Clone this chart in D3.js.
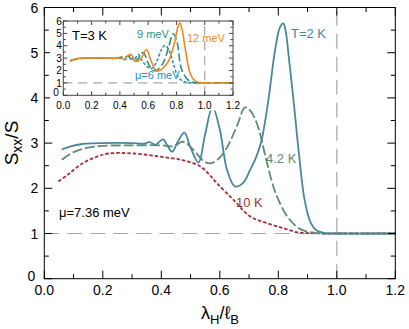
<!DOCTYPE html>
<html>
<head>
<meta charset="utf-8">
<script src="https://cdn.jsdelivr.net/npm/d3@7"></script>
<style>
  body { margin: 0; background: #fff; }
  text { font-family: "Liberation Sans", Arial, sans-serif; }
</style>
</head>
<body>
<div id="chart"></div>
<script>
// main panel: mu = 7.36 meV
const t2X = [0.06, 0.09, 0.13, 0.2, 0.3, 0.34, 0.36, 0.38, 0.395, 0.407, 0.422, 0.437, 0.458, 0.479, 0.50, 0.527, 0.55, 0.575, 0.60, 0.625, 0.652, 0.68, 0.703, 0.725, 0.743, 0.766, 0.789, 0.805, 0.817, 0.826, 0.835, 0.852, 0.87, 0.89, 0.91, 0.93, 0.96, 1.0, 1.2];
const t2Y = [2.86, 2.93, 2.98, 3.0, 3.0, 2.99, 3.02, 2.96, 3.04, 3.08, 2.93, 2.81, 3.05, 3.23, 2.9, 2.57, 3.2, 3.8, 3.3, 2.4, 2.04, 2.12, 2.4, 2.7, 3.07, 3.95, 5.06, 5.55, 5.65, 5.45, 4.95, 3.95, 2.8, 1.74, 1.25, 1.07, 1.01, 1.0, 1.0];

const t42X = [0.06, 0.1, 0.15, 0.2, 0.3, 0.4, 0.44, 0.475, 0.51, 0.545, 0.567, 0.59, 0.62, 0.66, 0.686, 0.703, 0.726, 0.743, 0.755, 0.783, 0.8, 0.83, 0.863, 0.89, 0.92, 0.95, 1.0, 1.2];
const t42Y = [2.63, 2.8, 2.9, 2.94, 2.95, 2.95, 2.93, 3.03, 2.85, 2.6, 2.55, 2.62, 2.85, 3.4, 3.79, 3.73, 3.45, 3.07, 2.73, 2.04, 1.75, 1.38, 1.15, 1.06, 1.02, 1.0, 1.0, 1.0];

const t10X = [0.048, 0.08, 0.13, 0.18, 0.219, 0.304, 0.395, 0.475, 0.532, 0.56, 0.589, 0.646, 0.703, 0.76, 0.817, 0.862, 0.9, 0.95, 1.0, 1.2];
const t10Y = [2.15, 2.3, 2.55, 2.7, 2.77, 2.77, 2.7, 2.62, 2.49, 2.33, 2.12, 1.75, 1.38, 1.23, 1.12, 1.03, 1.01, 1.0, 1.0, 1.0];

// inset: T = 3 K
const mu12X = [0.05, 0.08, 0.12, 0.2, 0.3, 0.38, 0.41, 0.43, 0.45, 0.48, 0.51, 0.545, 0.588, 0.62, 0.66, 0.70, 0.741, 0.788, 0.805, 0.823, 0.84, 0.859, 0.894, 0.92, 0.953, 1.0, 1.2];
const mu12Y = [2.8, 2.9, 3.0, 3.02, 3.02, 3.0, 3.1, 2.85, 3.15, 3.3, 2.75, 2.9, 3.7, 2.8, 1.95, 2.15, 2.7, 4.3, 5.3, 5.85, 5.3, 4.0, 1.88, 1.3, 1.05, 1.0, 1.0];

const mu9X = [0.05, 0.08, 0.12, 0.2, 0.3, 0.4, 0.43, 0.46, 0.49, 0.52, 0.565, 0.6, 0.635, 0.67, 0.71, 0.745, 0.776, 0.80, 0.835, 0.87, 0.9, 0.93, 0.96, 1.0, 1.2];
const mu9Y = [2.8, 2.9, 2.98, 3.0, 3.0, 3.0, 3.05, 3.15, 2.8, 2.85, 3.45, 2.6, 2.0, 2.1, 2.7, 3.9, 4.97, 4.5, 2.15, 1.4, 1.1, 1.02, 1.0, 1.0, 1.0];

const mu6X = [0.05, 0.08, 0.12, 0.2, 0.3, 0.38, 0.41, 0.44, 0.47, 0.5, 0.53, 0.56, 0.595, 0.624, 0.66, 0.69, 0.718, 0.745, 0.78, 0.812, 0.85, 0.88, 0.92, 1.0, 1.2];
const mu6Y = [2.75, 2.88, 2.97, 3.0, 3.0, 3.0, 3.1, 2.9, 3.2, 2.85, 3.3, 2.75, 2.3, 2.15, 2.7, 3.6, 4.03, 3.7, 2.5, 1.48, 1.12, 1.04, 1.0, 1.0, 1.0];

const xTicks = [0, 0.2, 0.4, 0.6, 0.8, 1.0, 1.2];
const yTicks = [0, 1, 2, 3, 4, 5, 6];

const width = 409, height = 329;
const svg = d3.select('#chart').append('svg')
  .attr('width', width)
  .attr('height', height);

const x = d3.scaleLinear().domain([0, 1.2]).range([44.3, 395.3]);
const y = d3.scaleLinear().domain([0, 6]).range([278.7, 7.5]);

const pts = (xs, ys) => xs.map((v, i) => [v, ys[i]]);

function frame(g, sx, sy, opt) {
  const [x0, x1] = sx.range(), [y0, y1] = sy.range();
  const xMinor = d3.range(0, 1.2001, 0.1);
  const yMinor = d3.range(0, 6.001, 0.5);
  xMinor.forEach(v => {
    const major = Math.abs(v * 5 - Math.round(v * 5)) < 1e-6;
    const len = major ? opt.major : opt.minor;
    g.append('line').attr('x1', sx(v)).attr('x2', sx(v)).attr('y1', y0).attr('y2', y0 - len)
      .attr('stroke', opt.color).attr('stroke-width', 1);
    g.append('line').attr('x1', sx(v)).attr('x2', sx(v)).attr('y1', y1).attr('y2', y1 + len)
      .attr('stroke', opt.color).attr('stroke-width', 1);
  });
  yMinor.forEach(v => {
    const major = Math.abs(v - Math.round(v)) < 1e-6;
    const len = major ? opt.major : opt.minor;
    g.append('line').attr('y1', sy(v)).attr('y2', sy(v)).attr('x1', x0).attr('x2', x0 + len)
      .attr('stroke', opt.color).attr('stroke-width', 1);
    g.append('line').attr('y1', sy(v)).attr('y2', sy(v)).attr('x1', x1).attr('x2', x1 - len)
      .attr('stroke', opt.color).attr('stroke-width', 1);
  });
  g.append('rect').attr('x', x0).attr('y', y1).attr('width', x1 - x0).attr('height', y0 - y1)
    .attr('fill', 'none').attr('stroke', opt.color).attr('stroke-width', 1);

  g.selectAll(null).data(xTicks).enter().append('text')
    .attr('x', d => sx(d)).attr('y', y0 + opt.xOff)
    .attr('text-anchor', 'middle')
    .style('font-size', opt.font + 'px')
    .text(d => d.toFixed(1));
  g.selectAll(null).data(yTicks).enter().append('text')
    .attr('x', d => x0 - opt.yOff - (d === 0 ? opt.zeroShift : 0))
    .attr('y', d => sy(d) - (d === 0 ? opt.zeroLift : 0)).attr('dy', '0.36em')
    .attr('text-anchor', 'end')
    .style('font-size', opt.font + 'px')
    .text(d => d);
}

function refLines(g, sx, sy, dash) {
  g.append('line').attr('x1', sx(0)).attr('x2', sx(1.2)).attr('y1', sy(1)).attr('y2', sy(1))
    .attr('stroke', '#a8a8a8').attr('stroke-width', 1.2).attr('stroke-dasharray', dash);
  g.append('line').attr('x1', sx(1)).attr('x2', sx(1)).attr('y1', sy(0)).attr('y2', sy(6))
    .attr('stroke', '#a8a8a8').attr('stroke-width', 1.2).attr('stroke-dasharray', dash);
}

function curve(g, sx, sy, data, color, dash, w) {
  const line = d3.line().x(d => sx(d[0])).y(d => sy(d[1]))
    .curve(d3.curveCatmullRom.alpha(0.5));
  g.append('path').attr('d', line(data))
    .attr('fill', 'none').attr('stroke', color).attr('stroke-width', w)
    .attr('stroke-dasharray', dash);
}

// main panel
const main = svg.append('g');
refLines(main, x, y, '15,8');
curve(main, x, y, pts(t10X, t10Y), '#a3303a', '3.5,2', 1.8);
curve(main, x, y, pts(t42X, t42Y), '#5d8d72', '10,3', 1.8);
curve(main, x, y, pts(t2X, t2Y), '#4a879e', null, 1.8);
frame(main, x, y, { color: '#000', major: 8, minor: 4.5, font: 14, xOff: 16, yOff: 6, zeroLift: 3, zeroShift: 3 });

main.append('text').attr('x', 291).attr('y', 38).attr('fill', '#4a879e')
  .style('font-size', '13px').text('T=2 K');
main.append('text').attr('x', 266).attr('y', 163).attr('fill', '#5d8d72')
  .style('font-size', '13px').text('4.2 K');
main.append('text').attr('x', 236).attr('y', 207).attr('fill', '#a3303a')
  .style('font-size', '13px').text('10 K');
main.append('text').attr('x', 59).attr('y', 217).attr('fill', '#000')
  .style('font-size', '13px').text('μ=7.36 meV');

// axis titles
const yl = svg.append('text')
  .attr('transform', 'translate(18,143) rotate(-90)')
  .attr('text-anchor', 'middle')
  .style('font-size', '19px');
yl.append('tspan').text('S');
yl.append('tspan').attr('dy', 4).style('font-size', '14px').text('xx');
yl.append('tspan').attr('dy', -4).text('/S');

const xl = svg.append('text')
  .attr('x', 220).attr('y', 319)
  .attr('text-anchor', 'middle')
  .style('font-size', '18px');
xl.append('tspan').text('λ');
xl.append('tspan').attr('dy', 5).style('font-size', '13px').text('H');
xl.append('tspan').attr('dy', -5).text('/ℓ');
xl.append('tspan').attr('dy', 5).style('font-size', '13px').text('B');

// inset
const ix = d3.scaleLinear().domain([0, 1.2]).range([63.3, 233]);
const iy = d3.scaleLinear().domain([0, 6]).range([95.3, 21]);
const inset = svg.append('g');
inset.append('rect').attr('x', 50).attr('y', 16.5).attr('width', 186).attr('height', 94).attr('fill', '#fff');
refLines(inset, ix, iy, '9,6');
curve(inset, ix, iy, pts(mu6X, mu6Y), '#2b8fc2', '3,2', 1.6);
curve(inset, ix, iy, pts(mu9X, mu9Y), '#2b9282', '8,3', 1.6);
curve(inset, ix, iy, pts(mu12X, mu12Y), '#f08a1e', null, 1.6);
frame(inset, ix, iy, { color: '#444', major: 4, minor: 2.5, font: 10, xOff: 13.5, yOff: 1.5, zeroLift: 2.5, zeroShift: 3 });

inset.append('text').attr('x', 72).attr('y', 40).style('font-size', '13px').text('T=3 K');
inset.append('text').attr('x', 137).attr('y', 38).attr('fill', '#2b9282')
  .style('font-size', '11px').text('9 meV');
inset.append('text').attr('x', 187).attr('y', 42).attr('fill', '#f08a1e')
  .style('font-size', '11px').text('12 meV');
inset.append('text').attr('x', 135).attr('y', 79).attr('fill', '#2b8fc2')
  .style('font-size', '11px').text('μ=6 meV');
</script>
</body>
</html>
